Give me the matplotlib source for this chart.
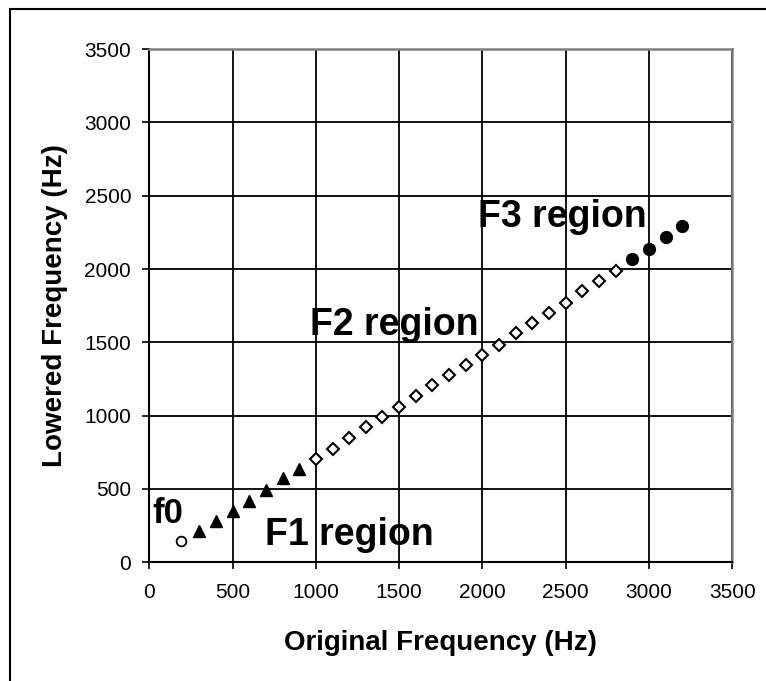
"""Lowered vs original frequency, by formant region."""
import matplotlib
matplotlib.use("Agg")
import matplotlib.pyplot as plt
from matplotlib.patches import Rectangle

# data
f0_x = [190]
f0_y = [147]
f1_x = [300, 400, 500, 600, 700, 800, 900]
f1_y = [215, 282, 350, 420, 490, 572, 638]
f2_x = list(range(1000, 2900, 100))
f2_y = [704, 773, 850, 925, 993, 1061, 1134, 1209, 1277, 1345,
        1413, 1481, 1561, 1634, 1700, 1770, 1850, 1918, 1988]
f3_x = [2900, 3000, 3100, 3200]
f3_y = [2068, 2136, 2220, 2293]
ticks = list(range(0, 3501, 500))
region_labels = ["f0", "F1 region", "F2 region", "F3 region"]

plt.rcParams["font.family"] = ["Liberation Sans", "DejaVu Sans"]

fig = plt.figure(figsize=(7.66, 6.81), dpi=100)
ax = fig.add_axes([0.1949, 0.1743, 0.7611, 0.7537])

# outer frame (cropped on right/bottom like the original)
fig.patches.append(Rectangle((10 / 766, -0.05), 1.2, 1 - 9 / 681 + 0.05,
                             transform=fig.transFigure, fill=False,
                             edgecolor="black", linewidth=1.5))

ax.plot(f0_x, f0_y, "o", ms=7, mfc="white", mec="black", mew=1.3, zorder=3, clip_on=False)
ax.plot(f1_x, f1_y, "^", ms=9, color="black", zorder=3)
ax.plot(f2_x, f2_y, "D", ms=5.8, mfc="white", mec="black", mew=1.5, zorder=3)
ax.plot(f3_x, f3_y, "o", ms=8.5, color="black", zorder=3)

ax.set_xlim(0, 3500)
ax.set_ylim(0, 3500)
ax.set_xticks(ticks)
ax.set_yticks(ticks)
ax.grid(True, color="black", linewidth=1.3)
ax.set_axisbelow(True)

for side in ("left", "bottom"):
    ax.spines[side].set_color("black")
    ax.spines[side].set_linewidth(1.5)
for side in ("top", "right"):
    ax.spines[side].set_color("#808080")
    ax.spines[side].set_linewidth(1.8)

ax.tick_params(axis="both", direction="out", length=5, width=1.2, labelsize=15)
ax.tick_params(axis="x", pad=10)
ax.tick_params(axis="y", pad=8)

ax.set_xlabel("Original Frequency (Hz)", fontsize=20, fontweight="bold", labelpad=20)
ax.set_ylabel("Lowered Frequency (Hz)", fontsize=20, fontweight="bold", labelpad=12)

ax.text(113, 270, region_labels[0], fontsize=25, fontweight="bold", ha="center", va="baseline")
ax.text(1202, 118, region_labels[1], fontsize=27, fontweight="bold", ha="center", va="baseline")
ax.text(1468, 1550, region_labels[2], fontsize=27, fontweight="bold", ha="center", va="baseline")
ax.text(2482, 2288, region_labels[3], fontsize=27, fontweight="bold", ha="center", va="baseline")

fig.savefig("out.png", dpi=100)
